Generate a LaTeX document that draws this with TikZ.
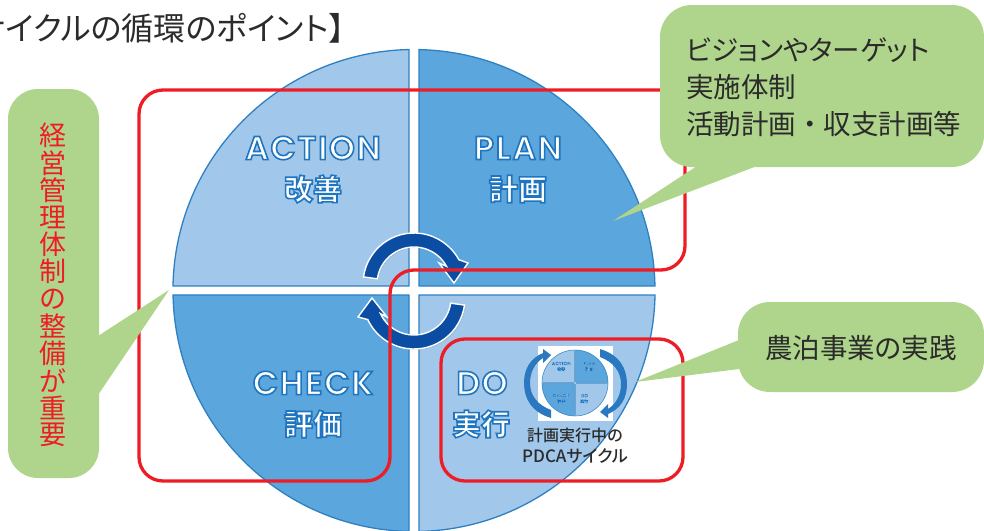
\documentclass[tikz,border=0pt]{standalone}
\usepackage{fontspec}
\usetikzlibrary{calc,shadows}
\newfontfamily\jpfont[RawFeature=+palt]{Noto Sans CJK JP}
\newfontfamily\jpfull{Noto Sans CJK JP}
\newfontfamily\jpsemi{Noto Sans CJK JP Medium}
\newfontfamily\jpsemipalt[RawFeature=+palt]{Noto Sans CJK JP Medium}
\newfontfamily\enfont[LetterSpace=5]{Poppins SemiBold}
\definecolor{quadlight}{HTML}{A1C8EB}
\definecolor{quaddark}{HTML}{5BA6DC}
\definecolor{quadblue}{HTML}{2E80C2}
\definecolor{navyarrow}{HTML}{0B4DA2}
\definecolor{iconarrow}{HTML}{2A78C0}
\definecolor{calloutgreen}{HTML}{AED58B}
\definecolor{boxred}{HTML}{EE1C25}
\definecolor{inktext}{HTML}{2B2B2B}
% white letters with a blue stroke round them
\newcommand{\halotext}[1]{{\color{white}\special{pdf:literal direct 2 Tr 1.6 w 0.12 0.46 0.75 RG}#1\special{pdf:literal direct 0 Tr}}}
\tikzset{
	quadedge/.style={draw=quadblue,line width=1.3pt},
	enname/.style={font=\enfont\fontsize{33}{33}\selectfont,inner sep=0pt},
	jpname/.style={font=\jpfull\bfseries\fontsize{29}{29}\selectfont,inner sep=0pt},
	redbox/.style={draw=boxred,line width=3.3pt,rounded corners=24},
	callout/.style={fill=calloutgreen},
	blacktext/.style={text=inktext,inner sep=0pt,font=\jpfont\fontsize{27.5}{37}\selectfont},
	bigarrow/.style={fill=navyarrow,draw=white,line width=1.4pt,drop shadow={shadow xshift=1pt,shadow yshift=-1pt,opacity=.35}}
}
% the four quadrants, centre at (0,0)
\newcommand{\pdcapie}[1]{
	\filldraw[quadedge,fill=quadlight] (-5,-4.5) -- (-241,-4.5) arc (181.07:268.81:241) -- cycle;
	\filldraw[quadedge,fill=quaddark] (5,-4.5) -- (5,-240.9) arc (271.19:358.93:241) -- cycle;
	\filldraw[quadedge,fill=quadlight] (5,4.5) -- (241,4.5) arc (1.07:88.81:241) -- cycle;
	\filldraw[quadedge,fill=quaddark] (-5,4.5) -- (-5,240.9) arc (91.19:178.93:241) -- cycle;
	\node[enname] (#1action) at (-101,-142.5) {\halotext{ACTION}};
	\node[jpname] (#1kaizen) at (-101,-101.5) {\halotext{改善}};
	\node[enname] (#1plan) at (104,-142.5) {\halotext{PLAN}};
	\node[jpname] (#1keikaku) at (104,-101.5) {\halotext{計画}};
	\node[enname] (#1check) at (-101,92.5) {\halotext{CHECK}};
	\node[jpname] (#1hyoka) at (-101,133.5) {\halotext{評価}};
	\node[enname] (#1do) at (68,92.5) {\halotext{DO}};
	\node[jpname] (#1jikko) at (67,133.5) {\halotext{実行}};
}
\begin{document}
\begin{tikzpicture}[x=1pt,y=-1pt]
	\useasboundingbox (0,0) rectangle (984,530);
	\begin{scope}
		\clip (0,0) rectangle (984,530);
		\begin{scope}[shift={(414,290.5)}]
			\pdcapie{main}
		\end{scope}
	\end{scope}
	% turning arrows in the middle
	\draw[bigarrow] ($(414,284)+(188:51)$) arc (188:331.5:51) -- (468,263) -- (454,283) -- (439,263)
	-- ($(414,284)+(331.5:37)$) arc (331.5:188:37) -- cycle;
	\draw[bigarrow] ($(414,298)+(8:51)$) arc (8:155:51) -- (358,317) -- (372,298) -- (387,317)
	-- ($(414,298)+(155:37)$) arc (155:8:37) -- cycle;
	% small cycle
	\fill[white] (538,346) rectangle (613,421);
	\begin{scope}[shift={(575,383)},scale=.137,transform shape,quadedge/.style={draw=quadblue,line width=.5pt}]
		\pdcapie{icon}
	\end{scope}
	\foreach \r in {0,180}{
		\begin{scope}[rotate around={\r:(575.5,383.5)}]
			\fill[iconarrow] (551,418) .. controls (531,412) and (524,398) .. (524,383)
			.. controls (524,368) and (531,358) .. (543,353) -- (543,349) -- (551,355) -- (543,363) -- (543,358)
			.. controls (535,363) and (530,372) .. (530,383)
			.. controls (530,396) and (538,405) .. (551,410) -- cycle;
		\end{scope}
	}
	\node[text=inktext,inner sep=0pt,align=center,font=\jpsemi\fontsize{16}{21}\selectfont] (cycletext) at (575,445.5) {計画実行中の\\{\jpsemipalt\fontsize{17}{21}\selectfont PDCAサイクル}};
	% red frames
	\draw[redbox] (139,90) -- (685,90) -- (685,270) -- (390,270) -- (390,481) -- (139,481) -- cycle;
	\draw[redbox] (441,339) rectangle (683,481);
	% callouts
	\fill[callout,rounded corners=32] (660,5) rectangle (984,167);
	\fill[callout] (613,221) -- (697,166) -- (757,166) -- cycle;
	\fill[callout,rounded corners=32] (738,302) rectangle (984,392);
	\fill[callout] (635,382) -- (739,340) -- (739,369) -- cycle;
	\fill[callout,rounded corners=30] (8,89) rectangle (99,478);
	\fill[callout] (169,290) -- (98,336) -- (98,395) -- cycle;
	\node[blacktext,anchor=west,align=left] (visiontext) at (686,87) {ビジョンやターゲット\\実施体制\\{\jpfull 活動計画・収支計画等}};
	\node[blacktext] (farmtext) at (861,348) {農泊事業の実践};
	\foreach \c [count=\n] in {経,営,管,理,体,制,の,整,備,が,重,要}{
		\node[text=boxred,inner sep=0pt,font=\jpfont\fontsize{27}{27}\selectfont] (mgmt\n) at (53,108.5+27.2*\n) {\c};
	}
	\node[text=inktext,inner sep=0pt,anchor=east,font=\jpfont\fontsize{32}{32}\selectfont] (titletext) at (345,28) {サイクルの循環のポイント】};
\end{tikzpicture}
\end{document}
